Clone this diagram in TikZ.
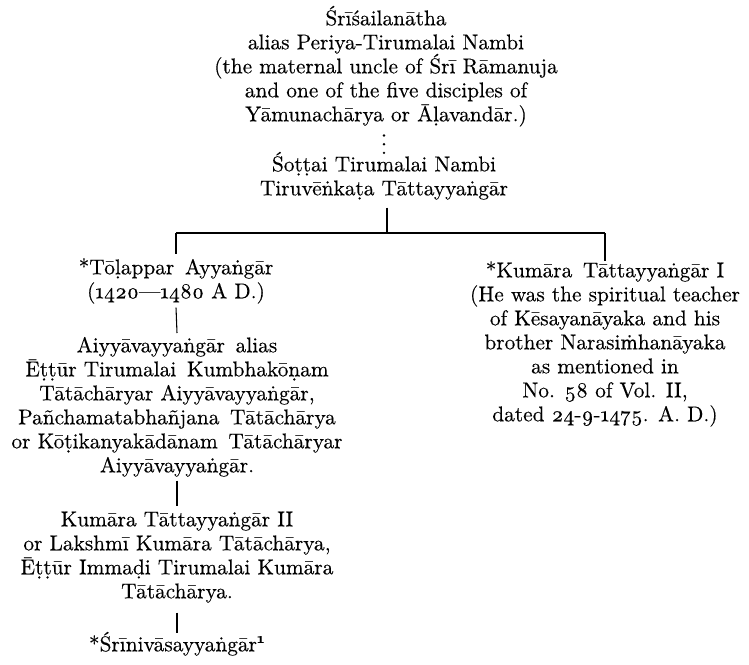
\documentclass[tikz,border=0pt]{standalone}
\usepackage{fontspec}
\setmainfont{lmroman10-regular.otf}[Numbers=OldStyle, BoldFont=lmroman10-bold.otf, ItalicFont=lmroman10-italic.otf, FakeBold=0.25]
\newfontfamily\djv{DejaVu Serif}[Scale=0.86, FakeBold=0.1]
\usetikzlibrary{calc}
\newcommand\tops{\rule{0pt}{15pt}}
\newcommand\bots{\rule[-4.5pt]{0pt}{4.5pt}}
\tikzset{
  txt/.style={anchor=north, inner sep=0pt, align=center, font=\fontsize{16}{18}\selectfont},
  link/.style={line width=0.8pt},
  dotlink/.style={line width=2pt, line cap=round, dash pattern=on 0pt off 6.5pt},
}
\begin{document}
\begin{tikzpicture}[x=0.75pt, y=-0.75pt]
\useasboundingbox (0,0) rectangle (749,664);

\node[txt] (sri) at (386,5) {\tops Śrīśailanātha\\
  alias Periya-Tirumalai Nambi\\
  (the maternal uncle of Śrī Rāmanuja\\
  and one of the five disciples of\\
  Yāmunachārya or Āḷavandār.)\bots};

\node[txt] (sot) at (384,151) {\tops Śoṭṭai Tirumalai Nambi\\
  Tiruvēṅkaṭa Tāttayyaṅgār\bots};

\node[txt] (tol) at (176,254) {\tops *Tōḷappar\enskip Ayyaṅgār\\
  (1420—1480 A D.)\bots};

\node[txt] (aiy) at (177,332) {\tops Aiyyāvayyaṅgār\enskip alias\\
  Ēṭṭūr Tirumalai\enskip Kumbhakōṇam\\
  Tātāchāryar Aiyyāvayyaṅgār,\\
  Pañchamatabhañjana\enskip Tātāchārya\\
  or Kōṭikanyakādānam\enskip Tātāchāryar\\
  Aiyyāvayyaṅgār.\bots};

\node[txt] (kum2) at (177,506) {\tops Kumāra Tāttayyaṅgār II\\
  or Lakshmī Kumāra Tātāchārya,\\
  Ēṭṭūr Immaḍi Tirumalai Kumāra\\
  Tātāchārya.\bots};

\node[txt] (srin) at (177,631) {\tops *Śrīnivāsayyaṅgār\textsuperscript{\bfseries 1}\bots};

\node[txt] (kum1) at (605,257) {\tops *Kumāra\enskip Tāttayyaṅgār I\\
  (He was the spiritual teacher\\
  of Kēsayanāyaka and his\\
  brother Narasi{\djv ṁ}hanāyaka\\
  as mentioned in\\
  No. 58 of Vol. II,\\
  dated 24-9-1475. A. D.)\bots};

\coordinate (jt) at (387,233);

\draw[dotlink] ($(sot.north |- sri.south)+(0,8)$) -- ($(sot.north)+(0,3)$);
\draw[link] ($(sot.south)+(3,6)$) -- (jt);
\draw[link] (tol.north |- jt) -- (kum1.north |- jt);
\draw[link] (tol.north |- jt) -- (tol.north);
\draw[link] (kum1.north |- jt) -- ($(kum1.north)+(0,4)$);
\draw[link] ($(tol.south)+(0,3)$) -- ($(aiy.north)+(0,1)$);
\draw[link] ($(aiy.south)+(0,2)$) -- (kum2.north);
\draw[link] ($(kum2.south)+(0,8)$) -- ($(srin.north)+(0,2)$);
\end{tikzpicture}
\end{document}
